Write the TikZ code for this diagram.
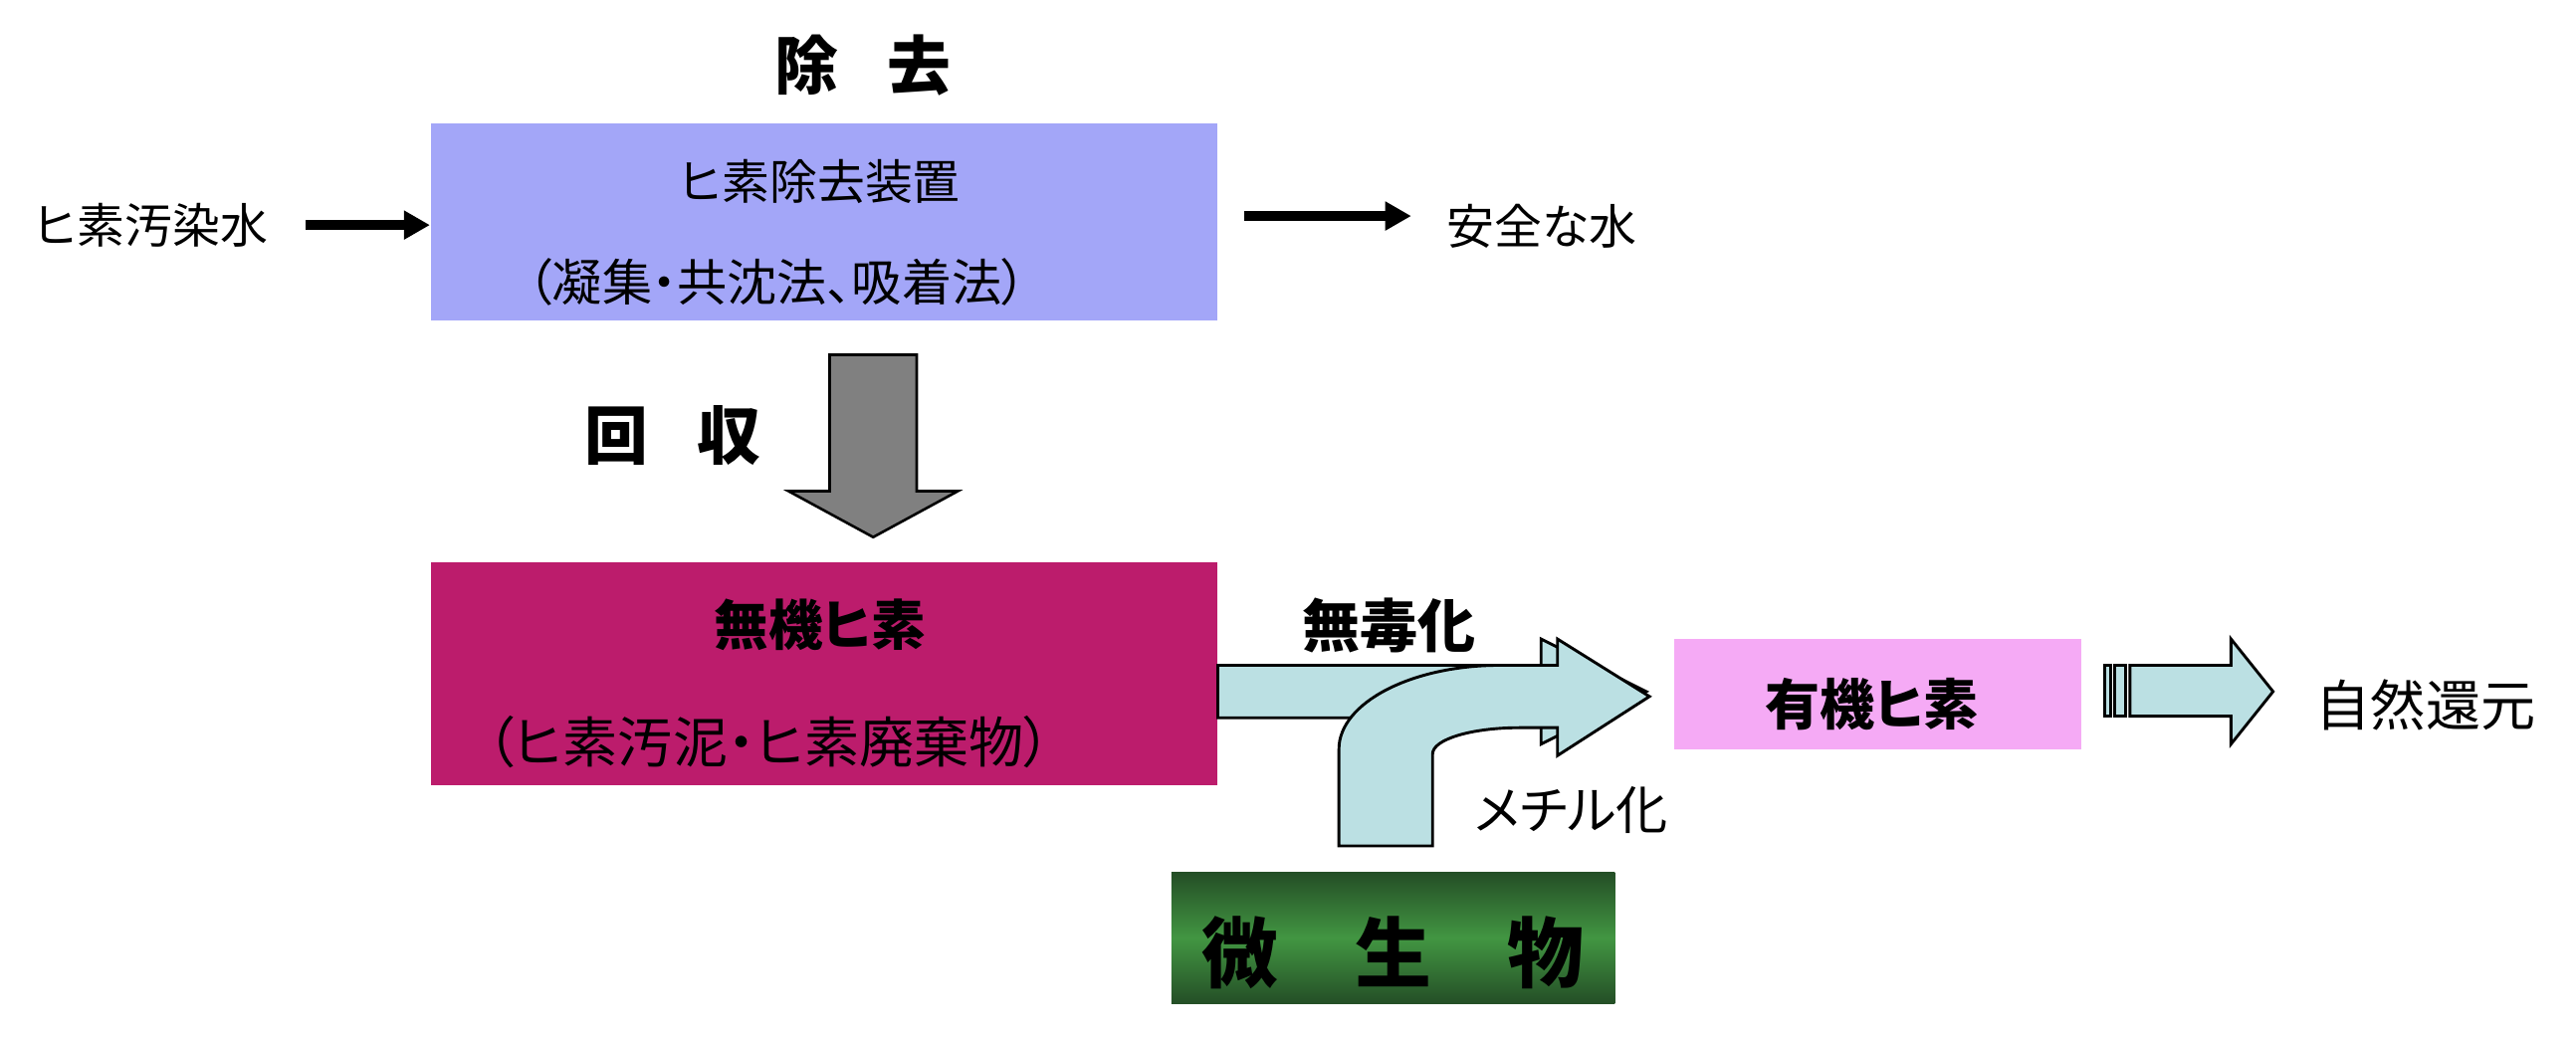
\documentclass[tikz,border=0pt]{standalone}
\usepackage{fontspec}
\setmainfont{Noto Sans CJK JP}[RawFeature=+palt]
\usetikzlibrary{arrows.meta}
\definecolor{removecol}{RGB}{163,166,248}
\definecolor{inorgcol}{RGB}{188,28,108}
\definecolor{orgcol}{RGB}{245,170,245}
\definecolor{flowcol}{RGB}{187,224,227}
\definecolor{microdark}{RGB}{36,78,38}
\definecolor{microlight}{RGB}{66,150,66}
\begin{document}
\begin{tikzpicture}[x=0.02cm, y=-0.02cm, line join=miter,
		box/.style={rectangle, draw=none, inner sep=0pt},
		txt/.style={inner sep=0pt, font=\fontsize{#1}{#1}\selectfont},
		btxt/.style={inner sep=0pt, font=\fontsize{#1}{#1}\selectfont\bfseries},
		flow/.style={draw=black, line width=1pt, fill=flowcol},
		thin arrow/.style={line width=3.3pt, -{Triangle[length=9pt,width=9.5pt]}}]
		\useasboundingbox (0,0) rectangle (1568,631.5);
		% removal
		\node[btxt=22] (titleR) at (525.5,40) {除\hspace{0.77em}去};
		\node[box, fill=removecol, minimum width=9.58cm, minimum height=2.4cm] (remove) at (501.5,135) {};
		\node[txt=16.5] (removeA) at (499,110.5) {ヒ素除去装置};
		\node[txt=17.3] (removeB) at (473,171.5) {（凝集・共沈法、吸着法）};
		\node[txt=16.5] (src) at (92,137) {ヒ素汚染水};
		\node[txt=16.5] (safe) at (938.5,138) {安全な水};
		\coordinate (safeL) at (859,131.5);
		\draw[thin arrow, shorten <=13pt] (src.east) -- (src.east -| remove.west);
		\draw[thin arrow, shorten <=9pt] (remove.east |- safeL) -- (safeL);
		% recovery
		\draw[line width=0.9pt, fill=gray] (505,216) -- (558,216) -- (558,299) -- (583,299) -- (531.5,327) -- (480,299) -- (505,299) -- cycle;
		\node[btxt=22] (collect) at (409.5,265) {回\hspace{0.77em}収};
		\node[box, fill=inorgcol, minimum width=9.58cm, minimum height=2.72cm] (inorg) at (501.5,410) {};
		\node[btxt=18.8] (inorgA) at (499,380.5) {無機ヒ素};
		\node[txt=19] (inorgB) at (468,452) {（ヒ素汚泥・ヒ素廃棄物）};
		% organic
		\node[box, fill=orgcol, minimum width=4.96cm, minimum height=1.34cm] (org) at (1143,422.5) {};
		\node[btxt=19] (orgA) at (1139.5,428.5) {有機ヒ素};
		\node[txt=19] (nature) at (1476.5,429) {自然還元};
		\node[box, top color=microdark, bottom color=microdark, middle color=microlight, minimum width=5.4cm, minimum height=1.6cm] (micro) at (848,571) {};
		\node[btxt=26.5] (microT) at (848,580) {微　生　物};
		% flows
		\draw[flow] (inorg.east |- 0,405) -- (938,405) -- (938,389) -- (1002,421) -- (938,453) -- (938,437) -- (inorg.east |- 0,437) -- cycle;
		\draw[flow] (815,515) -- (815,456) .. controls (815,428) and (859,405) .. (913,405) -- (948,405) -- (948,389) -- (1004,424) -- (948,460) -- (948,443) -- (925,443) .. controls (896,443) and (872,450) .. (872,459) -- (872,515) -- cycle;
		\node[btxt=20] (detox) at (845.5,381) {無毒化};
		\node[txt=18] (methyl) at (956.5,493) {メチル化};
		\draw[flow] (1281,405) rectangle (1285,436) (1287,405) rectangle (1294,436);
		\draw[flow] (1296.5,405) -- (1358,405) -- (1358,389) -- (1383.6,421) -- (1358,453) -- (1358,436) -- (1296.5,436) -- cycle;
\end{tikzpicture}
\end{document}
